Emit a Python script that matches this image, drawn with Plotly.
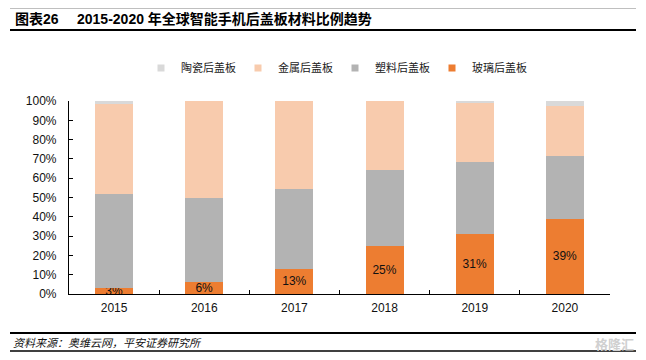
import plotly.graph_objects as go

years = ["2015", "2016", "2017", "2018", "2019", "2020"]
glass = [3, 6, 13, 25, 31, 39]
plastic = [49, 44, 41.5, 39, 37.5, 32.5]
metal = [46.5, 50, 45.5, 36, 30.5, 26]
ceramic = [1.5, 0, 0, 0, 1, 2.5]
glass_labels = ["3%", "6%", "13%", "25%", "31%", "39%"]

names = ["玻璃后盖板", "塑料后盖板", "金属后盖板", "陶瓷后盖板"]
colors = ["#ED7D31", "#B3B3B3", "#F8CBAD", "#D9D9D9"]

# page body has an 8px margin: figure sized and positioned to compensate
OFF = 8
W, H = 646 - OFF, 360 - OFF
PLOT_L, PLOT_R, PLOT_T, PLOT_B = 69, 610, 101, 294  # in screen coordinates
L, R, T, B = PLOT_L - OFF, W - (PLOT_R - OFF), PLOT_T - OFF, H - (PLOT_B - OFF)
PW, PH = W - L - R, H - T - B

def px(x):
    return (x - OFF - L) / PW

def py(y):
    return (H - B - (y - OFF)) / PH

FONT = "Liberation Sans, Arial, Noto Sans CJK SC, sans-serif"
CJK = "Noto Sans CJK SC, Liberation Sans, sans-serif"

fig = go.Figure()
series = [glass, plastic, metal, ceramic]
for i, (nm, vals, c) in enumerate(zip(names, series, colors)):
    kw = {}
    if i == 0:
        kw = dict(text=glass_labels, textposition="inside", insidetextanchor="middle",
                  constraintext="none", textfont=dict(size=12, color="#111111", family=FONT),
                  textangle=0)
    fig.add_trace(go.Bar(x=years, y=vals, name=nm, marker=dict(color=c, line=dict(width=0)),
                         showlegend=False, hoverinfo="skip", **kw))

# legend entries (small square markers)
for nm, c in zip(names, colors):
    fig.add_trace(go.Scatter(x=[None], y=[None], mode="markers", name=nm,
                             marker=dict(symbol="square", size=7, color=c), showlegend=True))

fig.update_layout(
    width=W, height=H,
    margin=dict(l=L, r=R, t=T, b=B),
    paper_bgcolor="white", plot_bgcolor="white",
    barmode="stack", bargap=0.58,
    font=dict(family=FONT, size=12, color="#111111"),
    legend=dict(orientation="h", traceorder="reversed", x=px(141), xanchor="left",
                y=py(68), yanchor="middle", font=dict(family=CJK, size=11, color="#222222"),
                entrywidth=52, entrywidthmode="pixels", itemwidth=30, bgcolor="rgba(0,0,0,0)"),
    xaxis=dict(type="category", range=[-0.5, 5.5], showline=True, linecolor="black", linewidth=1.2,
               ticks="inside", tickson="boundaries", ticklen=4, tickcolor="black", tickwidth=1,
               showgrid=False, ticklabelstandoff=2, tickfont=dict(size=12, color="#111111")),
    yaxis=dict(range=[0, 100], dtick=10, ticksuffix="%", showline=True, linecolor="black", linewidth=1.2,
               ticks="inside", ticklen=4, tickcolor="black", tickwidth=1, showgrid=False, zeroline=False,
               ticklabelstandoff=9, tickfont=dict(size=12, color="#111111")),
)

shapes = [
    dict(type="line", xref="paper", yref="paper", x0=px(10), x1=px(636), y0=py(7), y1=py(7),
         line=dict(color="black", width=2.5)),
    dict(type="line", xref="paper", yref="paper", x0=px(10), x1=px(636), y0=py(30), y1=py(30),
         line=dict(color="black", width=2)),
    dict(type="line", xref="paper", yref="paper", x0=px(10), x1=px(636), y0=py(333), y1=py(333),
         line=dict(color="black", width=2)),
    dict(type="line", xref="paper", yref="paper", x0=px(10), x1=px(636), y0=py(351), y1=py(351),
         line=dict(color="black", width=1.5)),
]
fig.update_layout(shapes=shapes)

annotations = [
    dict(text="<b>图表26</b>", xref="paper", yref="paper", x=px(13), y=py(19), xanchor="left",
         yanchor="middle", showarrow=False, font=dict(family=FONT, size=14, color="black")),
    dict(text="<b>2015-2020 年全球智能手机后盖板材料比例趋势</b>", xref="paper", yref="paper",
         x=px(75), y=py(19), xanchor="left", yanchor="middle", showarrow=False,
         font=dict(family=FONT, size=14, color="black")),
    dict(text="<i>资料来源：奥维云网，平安证券研究所</i>", xref="paper", yref="paper", x=px(11),
         y=py(342), xanchor="left", yanchor="middle", showarrow=False,
         font=dict(family=CJK, size=11, color="#111111")),
    dict(text="<b>格隆汇</b>", xref="paper", yref="paper", x=px(636), y=py(343), xanchor="right",
         yanchor="middle", showarrow=False, font=dict(family=CJK, size=13, color="#D0D0D0")),
]
fig.update_layout(annotations=annotations)

fig.write_html("out.html")
